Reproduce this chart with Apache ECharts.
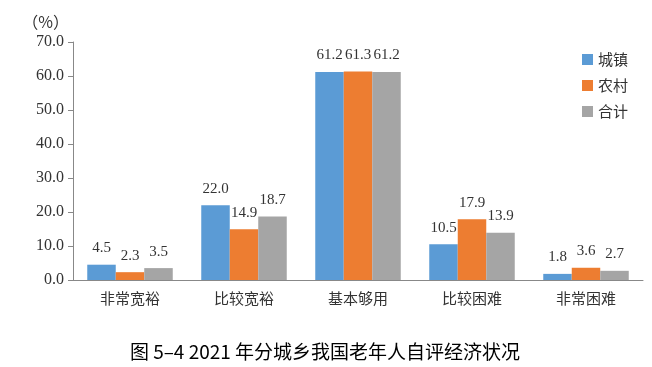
<!DOCTYPE html>
<html><head><meta charset="utf-8">
<script src="https://cdn.jsdelivr.net/npm/echarts@6/dist/echarts.min.js"></script>
<style>html,body{margin:0;padding:0;background:#fff}#c{width:652px;height:367px}</style>
</head><body><div id="c"></div>
<script>
var categories = ['非常宽裕','比较宽裕','基本够用','比较困难','非常困难'];
var urban = [4.5, 22.0, 61.2, 10.5, 1.8];
var rural = [2.3, 14.9, 61.3, 17.9, 3.6];
var total = [3.5, 18.7, 61.2, 13.9, 2.7];
var seriesNames = ['城镇','农村','合计'];
var colors = ['#5B9BD5','#ED7D31','#A5A5A5'];
var chart = echarts.init(document.getElementById('c'));
var serif = '"Liberation Serif","DejaVu Serif",serif';
var cjk = '"Noto Sans CJK SC",sans-serif';
function mk(name, data, color){
  return {name:name, type:'bar', data:data, barGap:'0%', barCategoryGap:'25%',
    itemStyle:{color:color},
    label:{show:true, position:'top', distance:9, color:'#333', fontFamily:serif, fontSize:15,
      formatter:function(p){return p.value.toFixed(1);}}};
}
chart.setOption({
  animation:false,
  color:colors,
  title:{text:'图 5–4 2021 年分城乡我国老年人自评经济状况', left:320, textAlign:'center', top:337,
    textStyle:{fontFamily:'"Noto Sans CJK SC","Liberation Sans",sans-serif', fontSize:19, fontWeight:'normal', color:'#000'}},
  legend:{orient:'vertical', left:577, top:47, itemWidth:11, itemHeight:11, itemGap:11,
    icon:'rect', textStyle:{fontFamily:cjk, fontSize:15, color:'#333'}, data:seriesNames},
  grid:{left:73, right:9, top:42, bottom:87},
  xAxis:{type:'category', data:categories,
    axisLine:{lineStyle:{color:'#888'}}, axisTick:{show:false},
    axisLabel:{fontFamily:cjk, fontSize:15, color:'#333', margin:11}},
  yAxis:{type:'value', min:0, max:70, interval:10, name:'（%）', nameLocation:'end', nameGap:12,
    nameTextStyle:{fontFamily:cjk, fontSize:16, color:'#333', align:'right', padding:[0,4,0,0]},
    axisLine:{show:true, lineStyle:{color:'#888'}}, axisTick:{show:true, length:5, lineStyle:{color:'#888'}},
    splitLine:{show:false},
    axisLabel:{fontFamily:serif, fontSize:16, color:'#333', margin:9, formatter:function(v){return v.toFixed(1);}}},
  series:[mk(seriesNames[0], urban, colors[0]), mk(seriesNames[1], rural, colors[1]), mk(seriesNames[2], total, colors[2])]
});
</script></body></html>
